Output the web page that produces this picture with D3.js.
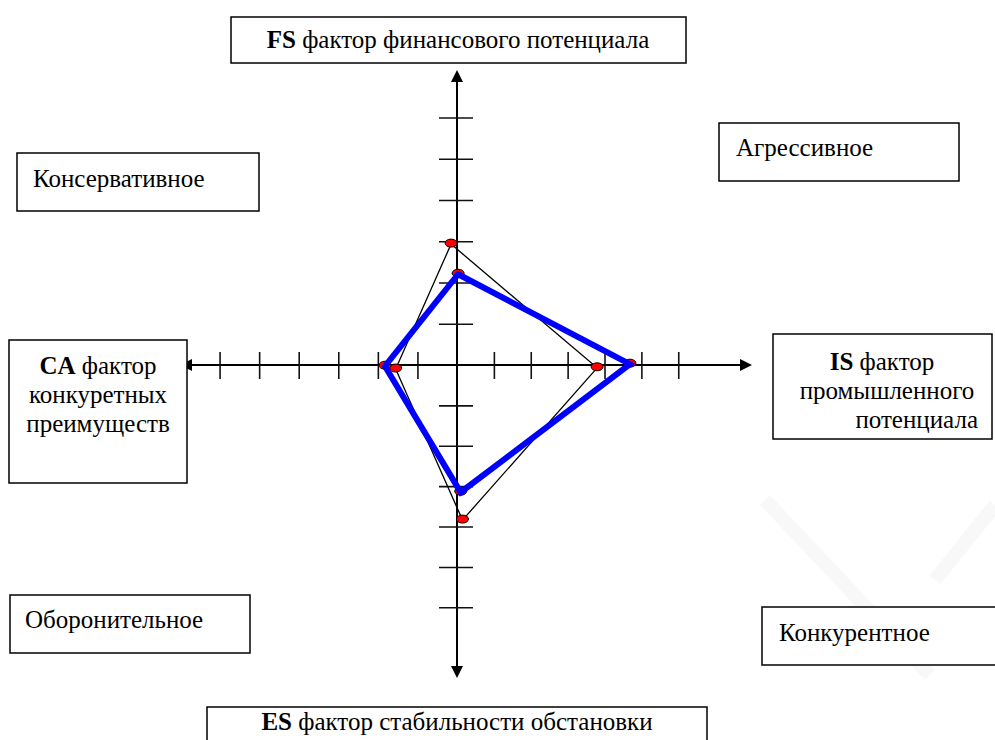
<!DOCTYPE html>
<html>
<head>
<meta charset="utf-8">
<script src="https://cdn.jsdelivr.net/npm/d3@7"></script>
<style>
  body { margin: 0; background: #fff; }
  svg text { font-family: "Liberation Serif", "DejaVu Serif", serif; fill: #000; }
</style>
</head>
<body>
<div id="vis"></div>
<script>
const width = 995;
const height = 740;

// factor order: FS (top), IS (right), ES (bottom), CA (left)
const factors = ["FS", "IS", "ES", "CA"];
// thin black polygon, values in axis units
const thinX = [-0.15, 3.8, 0.15, -1.55];
const thinY = [2.93, -0.07, -3.84, -0.1];
// thick blue polygon
const blueX = [0.03, 4.69, 0.1, -1.82];
const blueY = [2.2, 0.02, -3.15, -0.03];
// tick values on both axes
const tickVals = [-6, -5, -4, -3, -2, -1, 1, 2, 3, 4, 5, 6];

const svg = d3.select("#vis")
  .append("svg")
  .attr("width", width)
  .attr("height", height);

// faint watermark in the corner
svg.append("g")
  .attr("stroke", "#f8f8f8")
  .attr("stroke-width", 14)
  .attr("fill", "none")
  .call(g => {
    g.append("line").attr("x1", 765).attr("y1", 500).attr("x2", 930).attr("y2", 675);
    g.append("line").attr("x1", 995).attr("y1", 505).attr("x2", 935).attr("y2", 580);
  });

// scales (hand drawn axes are a bit uneven on each side)
const x = d3.scaleLinear().domain([-7, 0, 8]).range([180, 457, 752]);
const y = d3.scaleLinear().domain([-7.75, 0, 7.15]).range([678, 365, 70]);

// main axis lines
svg.append("line")
  .attr("x1", x(-7) + 8).attr("x2", x(8) - 8)
  .attr("y1", y(0)).attr("y2", y(0))
  .attr("stroke", "#000").attr("stroke-width", 2);
svg.append("line")
  .attr("x1", x(0)).attr("x2", x(0))
  .attr("y1", y(7.15) + 8).attr("y2", y(-7.75) - 8)
  .attr("stroke", "#000").attr("stroke-width", 2);

// arrow heads
const arrows = [
  [[x(-7), y(0)], [x(-7) + 12, y(0) - 6], [x(-7) + 12, y(0) + 6]],
  [[x(8), y(0)], [x(8) - 12, y(0) - 6], [x(8) - 12, y(0) + 6]],
  [[x(0), y(7.15)], [x(0) - 6, y(7.15) + 12], [x(0) + 6, y(7.15) + 12]],
  [[x(0), y(-7.75)], [x(0) - 6, y(-7.75) - 12], [x(0) + 6, y(-7.75) - 12]]
];
svg.append("g").selectAll("path")
  .data(arrows)
  .enter()
  .append("path")
    .attr("d", d => "M" + d.join("L") + "Z")
    .attr("fill", "#000");

// tick marks crossing the axes
svg.append("g")
  .attr("transform", `translate(0, ${y(0) - 13})`)
  .call(d3.axisBottom(x).tickValues(tickVals).tickSize(27).tickFormat(""))
  .call(g => g.select(".domain").remove())
  .call(g => g.selectAll(".tick line").attr("stroke", "#111").attr("stroke-width", 1.6));

svg.append("g")
  .attr("transform", `translate(${x(0) + 16}, 0)`)
  .call(d3.axisLeft(y).tickValues(tickVals).tickSize(34).tickFormat(""))
  .call(g => g.select(".domain").remove())
  .call(g => g.selectAll(".tick line").attr("stroke", "#111").attr("stroke-width", 1.6));

// polygons
const thinPts = factors.map((f, i) => [x(thinX[i]), y(thinY[i])]);
const bluePts = factors.map((f, i) => [x(blueX[i]), y(blueY[i])]);

svg.append("path")
  .attr("d", d3.line()(thinPts) + "Z")
  .attr("fill", "none")
  .attr("stroke", "#000")
  .attr("stroke-width", 1.3);

svg.append("g").selectAll("ellipse")
  .data(thinPts.concat(bluePts))
  .enter()
  .append("ellipse")
    .attr("cx", d => d[0])
    .attr("cy", d => d[1] - 1)
    .attr("rx", 6)
    .attr("ry", 4)
    .attr("fill", "#ff0000")
    .attr("stroke", "#000")
    .attr("stroke-width", 1);

svg.append("path")
  .attr("d", d3.line()(bluePts) + "Z")
  .attr("fill", "none")
  .attr("stroke", "#0000ff")
  .attr("stroke-width", 6)
  .attr("stroke-linejoin", "miter");

// labelled boxes
const fontSize = 25;
function box(x0, y0, w, h) {
  svg.append("rect")
    .attr("x", x0).attr("y", y0)
    .attr("width", w).attr("height", h)
    .attr("fill", "#fff")
    .attr("stroke", "#000")
    .attr("stroke-width", 1.5);
}
function label(tx, ty, bold, rest, anchor) {
  const t = svg.append("text")
    .attr("x", tx).attr("y", ty)
    .attr("font-size", fontSize)
    .attr("text-anchor", anchor || "start");
  if (bold) t.append("tspan").attr("font-weight", "bold").text(bold);
  t.append("tspan").text(rest);
}

box(231, 17, 455, 46);
label(458, 48, "FS", " фактор финансового потенциала", "middle");

box(719, 123, 240, 58);
label(736, 156, null, "Агрессивное");

box(17, 153, 242, 58);
label(33, 187, null, "Консервативное");

box(10, 595, 240, 58);
label(25, 628, null, "Оборонительное");

box(762, 607, 245, 58);
label(779, 641, null, "Конкурентное");

box(9, 340, 178, 143);
label(98, 374, "CA", " фактор", "middle");
label(98, 403, null, "конкуретных", "middle");
label(98, 432, null, "преимуществ", "middle");

box(773, 334, 219, 105);
label(882, 370, "IS", " фактор", "middle");
label(887, 399, null, "промышленного", "middle");
label(978, 428, null, "потенциала", "end");

box(207, 707, 500, 45);
label(457, 730, "ES", " фактор стабильности обстановки", "middle");
</script>
</body>
</html>
